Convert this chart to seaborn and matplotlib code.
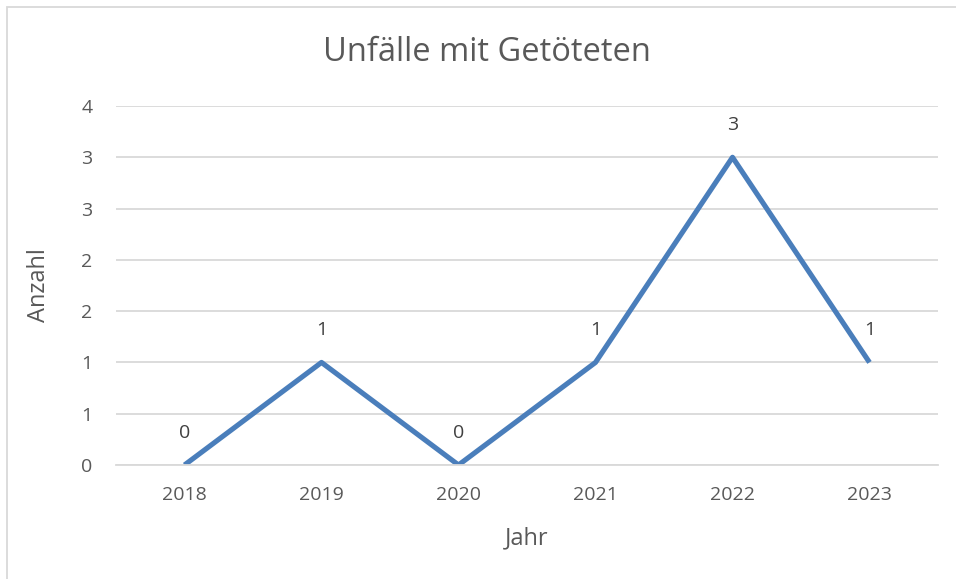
import numpy as np
import pandas as pd
import matplotlib.pyplot as plt
import seaborn as sns

# Daten
jahre = ["2018", "2019", "2020", "2021", "2022", "2023"]
anzahl = [0, 1, 0, 1, 3, 1]
y_ticks = [0, 0.5, 1, 1.5, 2, 2.5, 3, 3.5]
y_labels = ["0", "1", "1", "2", "2", "3", "3", "4"]

df = pd.DataFrame({"Jahr": jahre, "Anzahl": anzahl, "pos": range(len(jahre))})

sns.set_style("white")
plt.rcParams["font.family"] = ["Open Sans", "DejaVu Sans"]
text_col = "#595959"

fig = plt.figure(figsize=(9.56, 5.79), dpi=100)
ax = fig.add_axes([116 / 956, 114 / 579, 822 / 956, 359 / 579])

sns.lineplot(data=df, x="pos", y="Anzahl", color="#4A7EBB", linewidth=3.7,
             ax=ax, solid_capstyle="butt")

for i, v in enumerate(anzahl):
    ax.annotate(str(v), (i, v), xytext=(0, 23), textcoords="offset points",
                ha="center", va="center", fontsize=14, color="#404040")

ax.set_xlim(-0.5, len(jahre) - 0.5)
ax.set_yticks(y_ticks)
ax.set_yticklabels(y_labels)
ax.set_ylim(0, 3.5)
ax.set_xticks(range(len(jahre)))
ax.set_xticklabels(jahre)
ax.tick_params(axis="both", colors=text_col, labelsize=14, length=0)
ax.tick_params(axis="x", pad=15)
ax.tick_params(axis="y", pad=17)
ax.grid(axis="y", color="#D9D9D9", linewidth=1.3)
ax.set_axisbelow(True)
for s in ["top", "right", "left"]:
    ax.spines[s].set_visible(False)
ax.spines["bottom"].set_color("#D9D9D9")
ax.spines["bottom"].set_linewidth(1.3)

ax.set_xlabel("Jahr", fontsize=17, color=text_col, labelpad=16)
ax.set_ylabel("Anzahl", fontsize=17, color=text_col, labelpad=22)
fig.suptitle("Unfälle mit Getöteten", fontsize=23.5, color=text_col, x=487 / 956, y=0.938)

fig.patches.append(plt.Rectangle((7 / 956, -0.05), 1.2, (579 - 7) / 579 + 0.05,
                                 transform=fig.transFigure,
                                 fill=False, edgecolor="#D9D9D9", linewidth=1.3))

fig.savefig("out.png", dpi=100)
